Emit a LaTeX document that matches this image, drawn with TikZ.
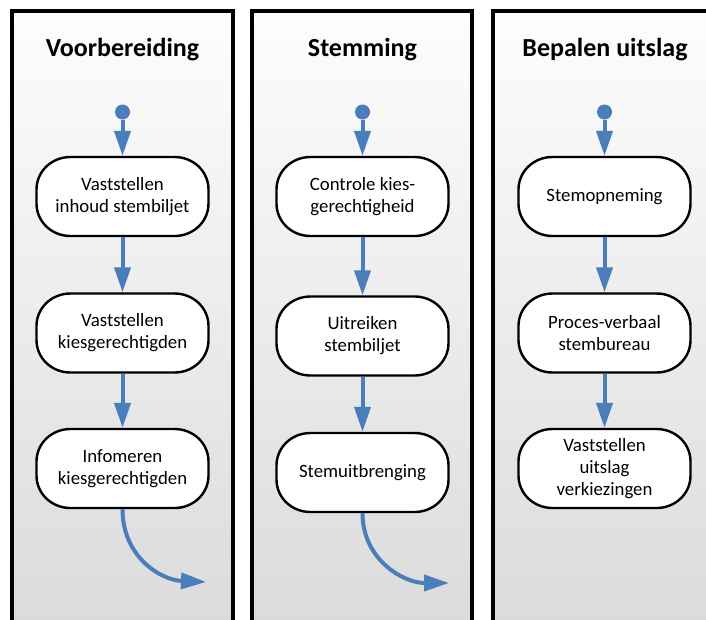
\documentclass[tikz,border=0pt]{standalone}
\usepackage{fontspec}
\setmainfont{Carlito}
\usetikzlibrary{arrows.meta}
\definecolor{flowblue}{RGB}{74,126,187}
\definecolor{bgtop}{RGB}{253,253,253}
\definecolor{bgbot}{RGB}{218,218,218}
\newcommand\stepnode[4]{%
  \begin{scope}[shift={(#2,#3)}]
    \filldraw[pilloutline] (-52,-39.5) -- (52,-39.5)
      .. controls (70.8,-39.5) and (86,-25.2) .. (86,-7)
      -- (86,7)
      .. controls (86,25.2) and (70.8,39.5) .. (52,39.5)
      -- (-52,39.5)
      .. controls (-70.8,39.5) and (-86,25.2) .. (-86,7)
      -- (-86,-7)
      .. controls (-86,-25.2) and (-70.8,-39.5) .. (-52,-39.5) -- cycle;
  \end{scope}
  \node[steptext] (#1) at (#2,#3) {#4};}
\begin{document}
\begin{tikzpicture}[x=1pt,y=-1pt,
  lane/.style={line width=4pt,draw=black},
  title/.style={font=\fontsize{26}{30}\selectfont\bfseries, anchor=center},
  pilloutline/.style={draw=black, line width=2.4pt, fill=white},
  steptext/.style={minimum width=174pt, minimum height=81pt, inner sep=0pt, align=center,
    font=\fontsize{18.8}{22}\selectfont},
  startdot/.style={circle, fill=flowblue, inner sep=0pt, minimum size=15pt},
  arr/.style={draw=flowblue, line width=4pt, -{Triangle[length=25pt,width=16pt]}}
]
\useasboundingbox (0,0) rectangle (706,619);
\clip (0,0) rectangle (706,619);
\fill[white] (0,0) rectangle (706,619);

% lanes
\shade[top color=bgtop, bottom color=bgbot] (12,11) rectangle (233,640);
\draw[lane] (12,640) -- (12,11) -- (233,11) -- (233,640);
\shade[top color=bgtop, bottom color=bgbot] (252,11) rectangle (472,640);
\draw[lane] (252,640) -- (252,11) -- (472,11) -- (472,640);
\shade[top color=bgtop, bottom color=bgbot] (493,11) rectangle (716,640);
\draw[lane] (493,640) -- (493,11) -- (716,11) -- (716,640);

% titles
\node[title] (t1) at (122.5,50) {Voorbereiding};
\node[title] (t2) at (362.5,50) {Stemming};
\node[title] (t3) at (605,50) {Bepalen uitslag};

% column 1
\node[startdot] (s1) at (122.5,112) {};
\stepnode{a1}{122.5}{196.5}{Vaststellen\\inhoud stembiljet}
\stepnode{a2}{122.5}{333}{Vaststellen\\kiesgerechtigden}
\stepnode{a3}{122.5}{468.5}{Infomeren\\kiesgerechtigden}
\coordinate (e1) at (206,582);
\draw[arr] (s1) -- (a1);
\draw[arr] (a1) -- (a2);
\draw[arr] (a2) -- (a3);
\draw[arr] (a3.south) .. controls +(0,47) and +(-46,-2) .. (e1);

% column 2
\node[startdot] (s2) at (362.5,112) {};
\stepnode{b1}{362.5}{196.5}{Controle kies-\\gerechtigheid}
\stepnode{b2}{362.5}{336}{Uitreiken\\stembiljet}
\stepnode{b3}{362.5}{472.5}{Stemuitbrenging}
\coordinate (e2) at (449,583);
\draw[arr] (s2) -- (b1);
\draw[arr] (b1) -- (b2);
\draw[arr] (b2) -- (b3);
\draw[arr] (b3.south) .. controls +(0,46) and +(-46,0) .. (e2);

% column 3
\node[startdot] (s3) at (604.5,112) {};
\stepnode{c1}{604.5}{196.5}{Stemopneming}
\stepnode{c2}{604.5}{333}{Proces-verbaal\\stembureau}
\stepnode{c3}{604.5}{468.5}{Vaststellen\\uitslag\\verkiezingen}
\draw[arr] (s3) -- (c1);
\draw[arr] (c1) -- (c2);
\draw[arr] (c2) -- (c3);
\end{tikzpicture}
\end{document}
